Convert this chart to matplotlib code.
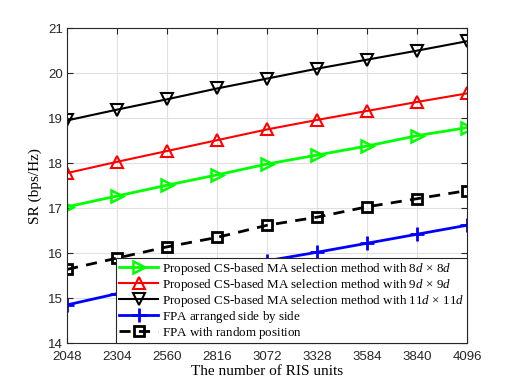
import matplotlib
matplotlib.use("Agg")
import matplotlib.pyplot as plt

# ── Data ─────────────────────────────────────────────────────────────────────
ris_units = [2048, 2304, 2560, 2816, 3072, 3328, 3584, 3840, 4096]

sr_8d  = [17.03, 17.27, 17.51, 17.74, 17.98, 18.18, 18.38, 18.61, 18.79]
sr_9d  = [17.78, 18.03, 18.27, 18.51, 18.75, 18.96, 19.16, 19.36, 19.55]
sr_11d = [18.95, 19.19, 19.42, 19.66, 19.88, 20.10, 20.30, 20.50, 20.71]
sr_fpa_side   = [14.85, 15.10, 15.36, 15.60, 15.83, 16.02, 16.22, 16.42, 16.62]
sr_fpa_random = [15.64, 15.89, 16.14, 16.35, 16.62, 16.80, 17.03, 17.21, 17.39]

# trailing "$\,$" on the FPA labels keeps all legend rows the same height
labels = [
    r"Proposed CS-based MA selection method with $8d\,\times\,8d$",
    r"Proposed CS-based MA selection method with $9d\,\times\,9d$",
    r"Proposed CS-based MA selection method with $11d\,\times\,11d$",
    r"FPA arranged side by side$\,$",
    r"FPA with random position$\,$",
]

# ── Style ────────────────────────────────────────────────────────────────────
SERIF = "Liberation Serif"
SANS = "Liberation Sans"
plt.rcParams["mathtext.fontset"] = "custom"
plt.rcParams["mathtext.rm"] = SERIF
plt.rcParams["mathtext.it"] = SERIF + ":italic"

fig = plt.figure(figsize=(5.16, 3.86), dpi=100)
ax = fig.add_axes([0.130, 0.111, 0.775, 0.816])

ax.plot(ris_units, sr_8d, color="#00ff00", lw=2, marker=">", ms=9,
        mfc="none", mew=1.8, label=labels[0])
ax.plot(ris_units, sr_9d, color="red", lw=1.5, marker="^", ms=9,
        mfc="none", mew=1.5, label=labels[1])
ax.plot(ris_units, sr_11d, color="black", lw=1.5, marker="v", ms=8.5,
        mfc="none", mew=1.5, label=labels[2])
ax.plot(ris_units, sr_fpa_side, color="blue", lw=2, marker="+", ms=10,
        mew=2, label=labels[3])
ax.plot(ris_units, sr_fpa_random, color="black", lw=2, ls=(0, (4, 3)),
        marker="s", ms=6.5, mfc="none", mew=2, label=labels[4])

ax.set_xlim(2048, 4096)
ax.set_ylim(14, 21)
ax.set_xticks(ris_units)
ax.set_yticks(range(14, 22))
for t in ax.get_xticklabels() + ax.get_yticklabels():
    t.set_fontfamily(SANS)
    t.set_fontsize(9.5)
    t.set_color("#262626")
ax.tick_params(direction="in", top=True, right=True, length=4,
               color="#262626")
ax.tick_params(axis="x", pad=6)
ax.tick_params(axis="y", pad=3)
ax.grid(True, color="#e0e0e0", lw=0.8)
for s in ax.spines.values():
    s.set_color("#262626")
    s.set_linewidth(0.8)

ax.set_xlabel("The number of RIS units", fontfamily=SERIF, fontsize=11,
              labelpad=1)
ax.set_ylabel("SR (bps/Hz)", fontfamily=SERIF, fontsize=11, labelpad=4)

leg = ax.legend(loc="lower right", borderaxespad=0, fancybox=False,
                framealpha=1, edgecolor="#262626", handlelength=3.0,
                handletextpad=0.3, labelspacing=0.0, borderpad=0.2,
                prop={"family": SERIF, "size": 9.4})
leg.get_frame().set_linewidth(0.8)

fig.savefig("out.png", dpi=100, facecolor="white")
